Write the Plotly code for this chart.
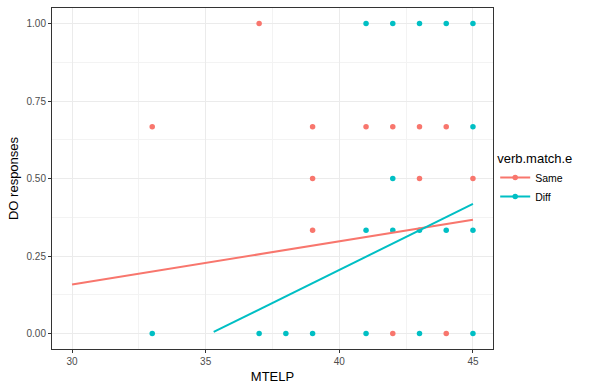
import plotly.graph_objects as go

# Point data
same_x = [37, 33, 39, 41, 42, 43, 44, 39, 43, 45, 39, 42, 44]
same_y = [1.0, 0.667, 0.667, 0.667, 0.667, 0.667, 0.667, 0.5, 0.5, 0.5, 0.333, 0, 0]
diff_x = [41, 42, 43, 44, 45, 45, 42, 41, 42, 43, 44, 45, 33, 37, 38, 39, 41, 43, 45]
diff_y = [1.0, 1.0, 1.0, 1.0, 1.0, 0.667, 0.5, 0.333, 0.333, 0.333, 0.333, 0.333, 0, 0, 0, 0, 0, 0, 0]

# Fitted lines (endpoints)
same_fit_x = [30, 45]
same_fit_y = [0.158, 0.367]
diff_fit_x = [35.3, 45]
diff_fit_y = [0.005, 0.418]

x_ticks = [30, 35, 40, 45]
y_ticks = [0, 0.25, 0.5, 0.75, 1.0]
y_tick_labels = ["0.00", "0.25", "0.50", "0.75", "1.00"]

RED = "#F8766D"
TEAL = "#00BFC4"

fig = go.Figure()
fig.add_trace(go.Scatter(x=same_x, y=same_y, mode="markers", marker=dict(color=RED, size=5.5),
                         showlegend=False, hoverinfo="skip"))
fig.add_trace(go.Scatter(x=diff_x, y=diff_y, mode="markers", marker=dict(color=TEAL, size=5.5),
                         showlegend=False, hoverinfo="skip"))
fig.add_trace(go.Scatter(x=same_fit_x, y=same_fit_y, mode="lines", line=dict(color=RED, width=2),
                         showlegend=False))
fig.add_trace(go.Scatter(x=diff_fit_x, y=diff_fit_y, mode="lines", line=dict(color=TEAL, width=2),
                         showlegend=False))
# legend entries
fig.add_trace(go.Scatter(x=[None], y=[None], mode="lines+markers", name="Same",
                         line=dict(color=RED, width=2), marker=dict(color=RED, size=5.5)))
fig.add_trace(go.Scatter(x=[None], y=[None], mode="lines+markers", name="Diff",
                         line=dict(color=TEAL, width=2), marker=dict(color=TEAL, size=5.5)))

axis_common = dict(
    showgrid=True, gridcolor="#EBEBEB", gridwidth=1,
    showline=True, linecolor="#333333", linewidth=1, mirror=True,
    ticks="outside", ticklen=3, tickcolor="#333333",
    tickfont=dict(family="Liberation Sans, Arial, sans-serif", size=10, color="#4D4D4D"),
    zeroline=False,
)

fig.update_layout(
    width=591, height=388,
    margin=dict(l=52, r=98, t=7, b=38),
    plot_bgcolor="white", paper_bgcolor="white",
    font=dict(family="Liberation Sans, Arial, sans-serif"),
    xaxis=dict(range=[29.25, 45.75], tickvals=x_ticks,
               title=dict(text="MTELP", font=dict(size=13, color="black"), standoff=5),
               minor=dict(showgrid=True, gridcolor="#F3F3F3", gridwidth=0.6, tickvals=[32.5, 37.5, 42.5]),
               **axis_common),
    yaxis=dict(range=[-0.05, 1.05], tickvals=y_ticks, ticktext=y_tick_labels,
               title=dict(text="DO responses", font=dict(size=13, color="black"), standoff=4),
               minor=dict(showgrid=True, gridcolor="#F3F3F3", gridwidth=0.6, tickvals=[0.125, 0.375, 0.625, 0.875]),
               **axis_common),
    legend=dict(title=dict(text="verb.match.e", font=dict(size=13, color="black")),
                font=dict(size=10.5, color="black"),
                x=1.005, y=0.50, xanchor="left", yanchor="middle",
                bgcolor="rgba(0,0,0,0)", itemwidth=30),
)

fig.write_html("out.html")
